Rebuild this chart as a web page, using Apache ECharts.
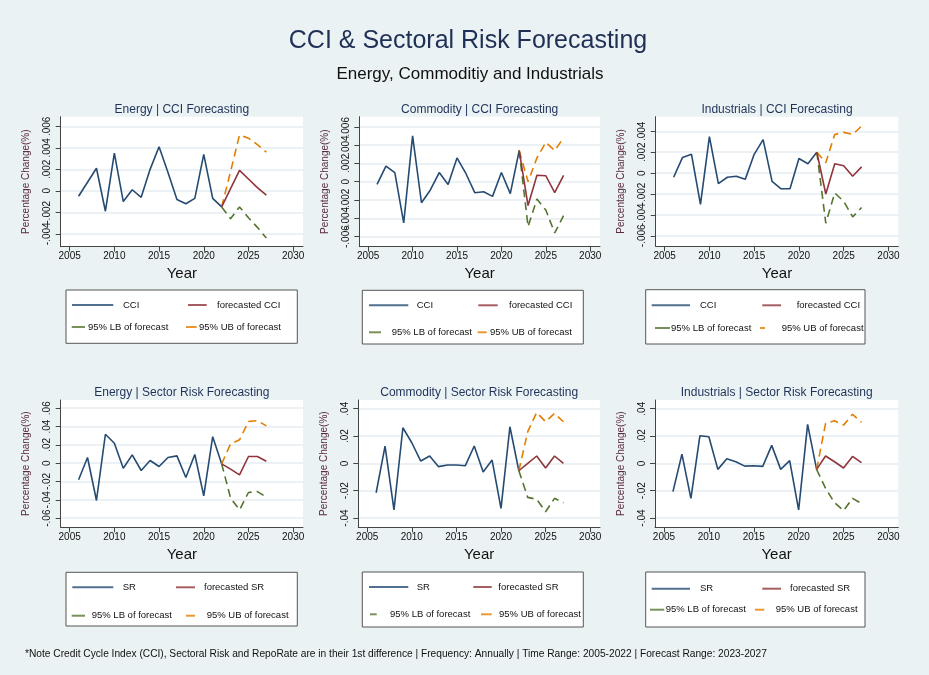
<!DOCTYPE html>
<html>
<head>
<meta charset="utf-8">
<script src="https://cdn.jsdelivr.net/npm/echarts@6/dist/echarts.min.js"></script>
<style>
  html, body { margin: 0; padding: 0; background: #eaf2f3; }
  #chart { width: 929px; height: 675px; }
</style>
</head>
<body>
<div id="chart"></div>
<script>
// years
var histYears = [2006, 2007, 2008, 2009, 2010, 2011, 2012, 2013, 2014, 2015, 2016, 2017, 2018, 2019, 2020, 2021, 2022];
var fcYears = [2022, 2023, 2024, 2025, 2026, 2027];
var yearTicks = [2005, 2010, 2015, 2020, 2025, 2030];

// CCI (1st difference)
var energyCci = [-0.0005, 0.0008, 0.0021, -0.0019, 0.0035, -0.001, 0.0001, -0.0006, 0.002, 0.0041, 0.0017, -0.0008, -0.0012, -0.0007, 0.0034, -0.0007, -0.0015];
var energyCciFc = [-0.0015, 0.0002, 0.0019, 0.0011, 0.0003, -0.0004];
var energyCciLb = [-0.0015, -0.0026, -0.0015, -0.0025, -0.0034, -0.0044];
var energyCciUb = [-0.0015, 0.0018, 0.0052, 0.0049, 0.0043, 0.0036];

var commodityCci = [-0.0003, 0.0017, 0.001, -0.0045, 0.005, -0.0023, -0.0009, 0.001, -0.0003, 0.0026, 0.0009, -0.0012, -0.0011, -0.0016, 0.001, -0.0013, 0.0034];
var commodityCciFc = [0.0034, -0.0026, 0.0007, 0.00065, -0.0012, 0.0007];
var commodityCciLb = [0.0034, -0.0049, -0.0019, -0.0031, -0.0056, -0.0037];
var commodityCciUb = [0.0034, 0.0, 0.0026, 0.0043, 0.0034, 0.0048];

var industrialsCci = [-0.0004, 0.0015, 0.0018, -0.003, 0.0035, -0.001, -0.0004, -0.0003, -0.0006, 0.0018, 0.0032, -0.0008, -0.0015, -0.0015, 0.0014, 0.0009, 0.002];
var industrialsCciFc = [0.002, -0.002, 0.0009, 0.0007, -0.0003, 0.0006];
var industrialsCciLb = [0.002, -0.0048, -0.0019, -0.0027, -0.0042, -0.0033];
var industrialsCciUb = [0.002, 0.001, 0.0037, 0.0039, 0.0037, 0.0045];

// Sectoral risk (1st difference)
var energySr = [-0.018, 0.0062, -0.0407, 0.0316, 0.0218, -0.0055, 0.0091, -0.008, 0.0029, -0.0036, 0.0062, 0.008, -0.0156, 0.0095, -0.0356, 0.029, -0.0007];
var energySrFc = [-0.0007, -0.0065, -0.0127, 0.0073, 0.0073, 0.0022];
var energySrLb = [-0.0007, -0.038, -0.051, -0.032, -0.031, -0.037];
var energySrUb = [-0.0007, 0.0211, 0.0255, 0.0455, 0.0465, 0.0407];

var commoditySr = [-0.0215, 0.0127, -0.0341, 0.0261, 0.0151, 0.0017, 0.0054, -0.0024, -0.0012, -0.0012, -0.0017, 0.0127, -0.0063, 0.0024, -0.0329, 0.0268, -0.0054];
var commoditySrFc = [-0.0054, 0.0, 0.0054, -0.0034, 0.0054, 0.0];
var commoditySrLb = [-0.0054, -0.0249, -0.0263, -0.0354, -0.0256, -0.0288];
var commoditySrUb = [-0.0054, 0.0232, 0.0373, 0.0305, 0.0366, 0.0305];

var industrialsSr = [-0.0207, 0.0068, -0.0256, 0.0202, 0.0195, -0.0044, 0.0034, 0.0012, -0.002, -0.0017, -0.0022, 0.0132, -0.0044, 0.002, -0.0341, 0.0285, -0.0044];
var industrialsSrFc = [-0.0044, 0.0054, 0.0012, -0.0034, 0.0051, 0.0005];
var industrialsSrLb = [-0.0044, -0.0183, -0.0288, -0.0346, -0.0256, -0.0293];
var industrialsSrUb = [-0.0044, 0.0293, 0.0312, 0.028, 0.0359, 0.03];

// y tick labels
var cciTicksEnergy = [-0.004, -0.002, 0, 0.002, 0.004, 0.006];
var cciTicksCommodity = [-0.006, -0.004, -0.002, 0, 0.002, 0.004, 0.006];
var cciTicksIndustrials = [-0.006, -0.004, -0.002, 0, 0.002, 0.004];
var srTicksEnergy = [-0.06, -0.04, -0.02, 0, 0.02, 0.04, 0.06];
var srTicksOther = [-0.04, -0.02, 0, 0.02, 0.04];

var FONT = '"Liberation Sans", Arial, sans-serif';
var colors = { hist: '#264b72', fc: '#90353b', lb: '#55752f', ub: '#e37e00' };

// layout of the six panels: grid [left, top, width, height], legend items [x0, x1, textX, y]
var panels = [
  { title: 'Energy | CCI Forecasting', key: 'CCI', hist: energyCci, fc: energyCciFc, lb: energyCciLb, ub: energyCciUb,
    ticks: cciTicksEnergy, yMin: -0.0052, yMax: 0.0069, grid: [60.7, 116.7, 242.3, 130],
    box: [66, 290, 231.3, 53.3], items: [[72, 113.3, 123, 305], [188, 206.7, 217, 305], [71.7, 85, 88, 327], [186, 196.7, 199, 327]] },
  { title: 'Commodity | CCI Forecasting', key: 'CCI', hist: commodityCci, fc: commodityCciFc, lb: commodityCciLb, ub: commodityCciUb,
    ticks: cciTicksCommodity, yMin: -0.0071, yMax: 0.0071, grid: [359.3, 116.7, 240.7, 130],
    box: [362.3, 290.3, 221, 53.7], items: [[369, 408.3, 416.7, 305.3], [478.3, 497.7, 509, 305.3], [369, 381, 391.7, 332.3], [477.7, 486.7, 490, 332.3]] },
  { title: 'Industrials | CCI Forecasting', key: 'CCI', hist: industrialsCci, fc: industrialsCciFc, lb: industrialsCciLb, ub: industrialsCciUb,
    ticks: cciTicksIndustrials, yMin: -0.007, yMax: 0.0054, grid: [655.7, 116.7, 242.6, 129.5],
    box: [645.7, 289.7, 219.3, 54.3], items: [[651.7, 690, 700, 305.3], [762.3, 781, 796.7, 305.3], [655, 670, 671, 328], [760, 765, 781.7, 328]] },
  { title: 'Energy | Sector Risk Forecasting', key: 'SR', hist: energySr, fc: energySrFc, lb: energySrLb, ub: energySrUb,
    ticks: srTicksEnergy, yMin: -0.07, yMax: 0.069, grid: [60.7, 400, 242.3, 127.3],
    box: [66, 572.3, 231.3, 53.7], items: [[72.3, 113.3, 122.7, 587.3], [176, 195, 204, 587.3], [71.7, 85, 91.7, 615.7], [186, 195, 206.7, 615.7]] },
  { title: 'Commodity | Sector Risk Forecasting', key: 'SR', hist: commoditySr, fc: commoditySrFc, lb: commoditySrLb, ub: commoditySrUb,
    ticks: srTicksOther, yMin: -0.0468, yMax: 0.0464, grid: [358.3, 400, 241.7, 127.3],
    box: [362.3, 572, 221, 55], items: [[369, 408.3, 416.7, 587], [473.3, 491.7, 498.3, 587], [370, 376.7, 390, 614.3], [481, 491.7, 499, 614.3]] },
  { title: 'Industrials | Sector Risk Forecasting', key: 'SR', hist: industrialsSr, fc: industrialsSrFc, lb: industrialsSrLb, ub: industrialsSrUb,
    ticks: srTicksOther, yMin: -0.0468, yMax: 0.0464, grid: [655, 400, 243.3, 127.3],
    box: [645.7, 572, 219.3, 55], items: [[651.7, 690, 700, 588.7], [762.3, 781, 790, 588.7], [650, 664.3, 665.7, 609.7], [755, 764.3, 775.7, 609.7]] }
];

function pairs(xs, ys) {
  return xs.map(function (x, i) { return [x, ys[i]]; });
}
// .002 style labels like Stata
function fmt(v) {
  if (v === 0) return '0';
  return String(+v.toFixed(4)).replace('0.', '.');
}

var option = {
  backgroundColor: '#eaf2f3',
  animation: false,
  textStyle: { fontFamily: FONT },
  title: [
    { text: 'CCI & Sectoral Risk Forecasting', left: 463, top: 24, textAlign: 'center',
      textStyle: { fontSize: 25, fontWeight: 'normal', color: '#1f2f55', fontFamily: FONT } },
    { text: 'Energy, Commoditiy and Industrials', left: 465, top: 61, textAlign: 'center',
      textStyle: { fontSize: 17, fontWeight: 'normal', color: '#111', fontFamily: FONT } }
  ],
  grid: [], xAxis: [], yAxis: [], series: [],
  graphic: [
    { type: 'text', left: 25, top: 649, z: 5,
      style: { text: '*Note Credit Cycle Index (CCI), Sectoral Risk and RepoRate are in their 1st difference | Frequency: Annually | Time Range: 2005-2022 | Forecast Range: 2023-2027',
        fontSize: 10.2, fill: '#111', fontFamily: FONT } }
  ]
};

panels.forEach(function (p, i) {
  var g = p.grid;
  option.grid.push({ left: g[0], top: g[1], width: g[2], height: g[3], show: true, backgroundColor: '#fff', borderWidth: 0 });
  option.title.push({
    text: p.title, left: g[0] + g[2] / 2, top: g[1] - 13, textAlign: 'center', padding: 0,
    textStyle: { fontSize: 12, fontWeight: 'normal', color: '#1f3259', fontFamily: FONT }
  });
  option.xAxis.push({
    gridIndex: i, type: 'value', min: 2004, max: 2031.1,
    axisLine: { show: true, onZero: false, lineStyle: { color: '#444', width: 1 } },
    axisTick: { show: true, length: 5, customValues: yearTicks, lineStyle: { color: '#444' } },
    axisLabel: { customValues: yearTicks, fontSize: 10, color: '#111', margin: 5, hideOverlap: false,
      formatter: function (v) { return String(v); } },
    splitLine: { show: false },
    name: 'Year', nameLocation: 'middle', nameGap: 20,
    nameTextStyle: { fontSize: 15, color: '#111' }
  });

  // main y axis: line, ticks, grid lines and axis title
  var yIndex = option.yAxis.length;
  option.yAxis.push({
    gridIndex: i, type: 'value', min: p.yMin, max: p.yMax, position: 'left',
    axisLine: { show: true, onZero: false, lineStyle: { color: '#444', width: 1 } },
    axisTick: { show: true, length: 5, customValues: p.ticks, lineStyle: { color: '#444' } },
    axisLabel: { show: false },
    splitLine: { show: true, lineStyle: { color: '#e4edf0', width: 1.5 } },
    name: 'Percentage Change(%)', nameLocation: 'middle', nameGap: 29,
    nameTextStyle: { fontSize: 10, color: '#5b2a3e' }
  });
  // tick labels split on two label-only axes so crowded labels are all kept (they overlap in the original)
  [0, 1].forEach(function (odd) {
    var vals = p.ticks.filter(function (v, k) { return k % 2 === odd; });
    option.yAxis.push({
      gridIndex: i, type: 'value', min: p.yMin, max: p.yMax, position: 'left', offset: 0,
      axisLine: { show: false }, axisTick: { show: false, customValues: vals }, splitLine: { show: false },
      axisLabel: { customValues: vals, rotate: 90, formatter: fmt, fontSize: 10, color: '#111', margin: 8,
        hideOverlap: false, showMinLabel: true, showMaxLabel: true }
    });
  });

  var names = [p.key, 'forecasted ' + p.key, '95% LB of forecast', '95% UB of forecast'];
  var defs = [
    { data: pairs(histYears, p.hist), color: colors.hist, dash: 'solid' },
    { data: pairs(fcYears, p.fc), color: colors.fc, dash: 'solid' },
    { data: pairs(fcYears, p.lb), color: colors.lb, dash: [8, 5] },
    { data: pairs(fcYears, p.ub), color: colors.ub, dash: [8, 5] }
  ];
  defs.forEach(function (d, k) {
    option.series.push({
      type: 'line', name: names[k], xAxisIndex: i, yAxisIndex: yIndex,
      data: d.data, showSymbol: false, symbol: 'none',
      itemStyle: { color: d.color },
      lineStyle: { color: d.color, width: 1.6, type: d.dash },
      z: k === 0 ? 3 : 4 - k * 0.1
    });
  });

  // legend box (Stata style: two columns, solid keys)
  var b = p.box;
  option.graphic.push({
    type: 'rect', shape: { x: b[0], y: b[1], width: b[2], height: b[3] },
    style: { fill: '#fff', stroke: '#555', lineWidth: 1 }, z: 1
  });
  p.items.forEach(function (it, k) {
    option.graphic.push({
      type: 'line', shape: { x1: it[0], y1: it[3], x2: it[1], y2: it[3] },
      style: { stroke: defs[k].color, lineWidth: 2, opacity: 0.8 }, z: 2
    });
    option.graphic.push({
      type: 'text', x: it[2], y: it[3], z: 2,
      style: { text: names[k], fontSize: 9.5, fill: '#111', fontFamily: FONT, verticalAlign: 'middle' }
    });
  });
});

var chart = echarts.init(document.getElementById('chart'));
chart.setOption(option);
</script>
</body>
</html>
